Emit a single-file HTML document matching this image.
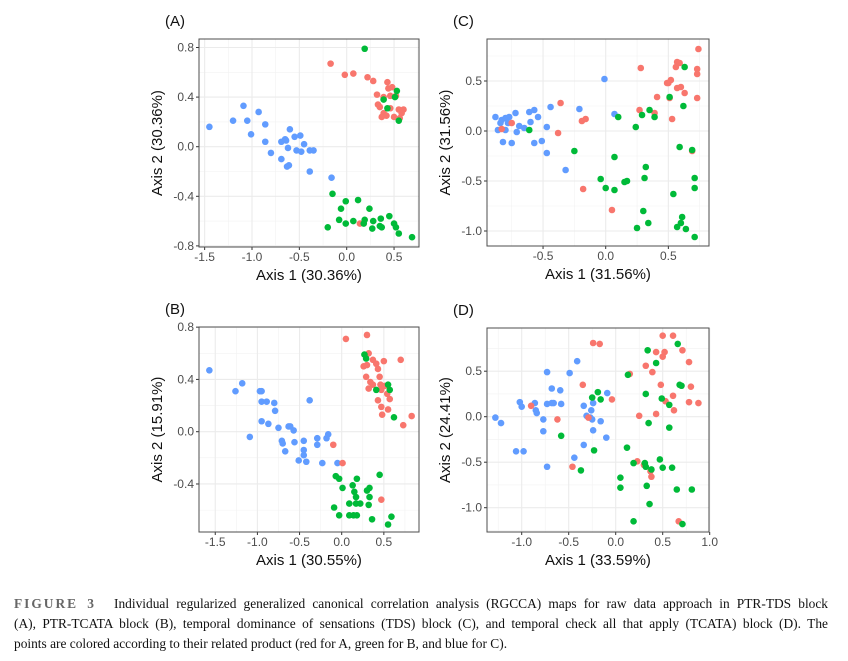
<!DOCTYPE html>
<html><head><meta charset="utf-8">
<style>
html,body{margin:0;padding:0;background:#fff;width:848px;height:661px;overflow:hidden}
svg{position:absolute;left:0;top:0}
.cap{position:absolute;left:14px;top:594px;width:814px;font-family:"Liberation Serif",serif;font-size:13.4px;line-height:20px;color:#111}
.cap div{white-space:nowrap}
.cap .j{text-align:justify;text-align-last:justify;white-space:normal}
.fig{color:#666;font-weight:bold;letter-spacing:2px;margin-right:11px}
</style></head><body>
<svg id="chart" width="848" height="590"></svg>
<div class="cap">
<div class="j"><span class="fig">FIGURE 3</span> Individual regularized generalized canonical correlation analysis (RGCCA) maps for raw data approach in PTR-TDS block</div>
<div class="j">(A), PTR-TCATA block (B), temporal dominance of sensations (TDS) block (C), and temporal check all that apply (TCATA) block (D). The</div>
<div>points are colored according to their related product (red for A, green for B, and blue for C).</div>
</div>
<script>
// Panel A data
const aRedX=[-0.17,-0.02,0.07,0.22,0.28,0.43,0.44,0.32,0.39,0.46,0.52,0.33,0.35,0.39,0.46,0.55,0.58,0.50,0.42,0.37,0.56,0.60,0.48,0.14];
const aRedY=[0.67,0.58,0.59,0.56,0.53,0.52,0.47,0.42,0.40,0.41,0.41,0.34,0.32,0.27,0.31,0.30,0.27,0.24,0.25,0.24,0.23,0.30,0.48,-0.62];
const aGreenX=[0.19,0.53,0.39,0.51,0.43,0.55,-0.15,-0.01,0.12,-0.06,0.24,-0.20,-0.08,-0.01,0.07,0.19,0.28,0.27,0.35,0.36,0.37,0.45,0.50,0.52,0.55,0.69,0.18];
const aGreenY=[0.79,0.45,0.38,0.40,0.31,0.21,-0.38,-0.44,-0.43,-0.50,-0.50,-0.65,-0.59,-0.62,-0.60,-0.59,-0.60,-0.66,-0.64,-0.58,-0.65,-0.56,-0.62,-0.65,-0.70,-0.73,-0.62];
const aBlueX=[-1.45,-1.20,-1.09,-1.05,-1.01,-0.93,-0.86,-0.86,-0.80,-0.69,-0.69,-0.65,-0.63,-0.61,-0.60,-0.62,-0.55,-0.49,-0.53,-0.48,-0.45,-0.39,-0.35,-0.39,-0.16,-0.64];
const aBlueY=[0.16,0.21,0.33,0.21,0.10,0.28,0.18,0.04,-0.05,-0.10,0.04,0.06,-0.16,-0.15,0.14,-0.01,0.08,0.09,-0.03,-0.04,0.02,-0.03,-0.03,-0.20,-0.25,0.05];
const aXTicks=[-1.5,-1.0,-0.5,0.0,0.5];
const aYTicks=[-0.8,-0.4,0.0,0.4,0.8];
// Panel B data
const bRedX=[-0.10,0.01,0.05,0.30,0.32,0.26,0.30,0.37,0.41,0.43,0.50,0.70,0.29,0.34,0.37,0.32,0.45,0.46,0.47,0.51,0.54,0.57,0.43,0.47,0.55,0.48,0.73,0.83,0.47];
const bRedY=[-0.10,-0.24,0.71,0.74,0.60,0.50,0.51,0.55,0.52,0.48,0.54,0.55,0.42,0.38,0.36,0.33,0.42,0.36,0.32,0.35,0.29,0.25,0.24,0.19,0.17,0.13,0.05,0.12,-0.52];
const bGreenX=[0.27,0.29,0.41,0.55,0.57,0.62,-0.07,-0.03,0.01,0.18,0.13,0.15,0.17,0.30,0.33,0.45,0.09,0.17,0.22,0.33,0.32,-0.09,-0.03,0.09,0.14,0.18,0.36,0.55,0.59];
const bGreenY=[0.59,0.56,0.32,0.36,0.32,0.11,-0.34,-0.36,-0.43,-0.36,-0.41,-0.46,-0.50,-0.45,-0.43,-0.33,-0.55,-0.55,-0.55,-0.50,-0.56,-0.58,-0.64,-0.64,-0.64,-0.64,-0.67,-0.71,-0.65];
const bBlueX=[-1.57,-1.26,-1.18,-1.09,-0.97,-0.95,-0.95,-0.89,-0.95,-0.87,-0.80,-0.79,-0.75,-0.71,-0.70,-0.67,-0.63,-0.61,-0.57,-0.56,-0.51,-0.45,-0.45,-0.45,-0.42,-0.38,-0.29,-0.29,-0.23,-0.16,-0.18,-0.05];
const bBlueY=[0.47,0.31,0.37,-0.04,0.31,0.31,0.23,0.23,0.08,0.06,0.22,0.16,0.03,-0.07,-0.09,-0.15,0.04,0.04,0.01,-0.08,-0.22,-0.07,-0.14,-0.18,-0.23,0.24,-0.05,-0.10,-0.24,-0.02,-0.05,-0.24];
const bXTicks=[-1.5,-1.0,-0.5,0.0,0.5];
const bYTicks=[-0.4,0.0,0.4,0.8];
// Panel C data
const cRedX=[-0.83,-0.75,-0.36,-0.38,-0.19,-0.16,-0.18,0.05,0.28,0.27,0.41,0.39,0.50,0.52,0.51,0.53,0.57,0.59,0.56,0.57,0.60,0.63,0.74,0.73,0.73,0.73,0.69,0.49];
const cRedY=[0.02,0.08,0.28,-0.02,0.10,0.12,-0.58,-0.79,0.63,0.21,0.34,0.18,0.48,0.51,0.33,0.12,0.69,0.68,0.64,0.43,0.44,0.38,0.82,0.62,0.57,0.33,-0.20,0.48];
const cGreenX=[-0.61,-0.25,-0.04,0.00,0.07,0.07,0.10,0.15,0.17,0.24,0.25,0.29,0.30,0.31,0.32,0.34,0.35,0.39,0.51,0.54,0.57,0.59,0.60,0.61,0.62,0.63,0.64,0.69,0.71,0.71,0.71];
const cGreenY=[0.01,-0.20,-0.48,-0.57,-0.26,-0.59,0.14,-0.51,-0.50,0.04,-0.97,0.16,-0.80,-0.47,-0.36,-0.92,0.21,0.14,0.34,-0.63,-0.96,-0.16,-0.92,-0.86,0.25,0.64,-0.98,-0.19,-0.47,-0.57,-1.06];
const cBlueX=[-0.88,-0.86,-0.83,-0.82,-0.80,-0.80,-0.77,-0.75,-0.72,-0.71,-0.69,-0.65,-0.61,-0.60,-0.57,-0.57,-0.54,-0.51,-0.47,-0.47,-0.44,-0.32,-0.21,-0.01,0.07,-0.84,-0.78];
const cBlueY=[0.14,0.01,0.11,-0.11,0.13,0.01,0.14,-0.12,0.18,-0.01,0.05,0.03,0.19,0.09,0.21,-0.12,0.14,-0.10,0.04,-0.22,0.24,-0.39,0.22,0.52,0.17,0.08,0.08];
const cXTicks=[-0.5,0.0,0.5];
const cYTicks=[-1.0,-0.5,0.0,0.5];
// Panel D data
const dRedX=[-0.90,-0.62,-0.46,-0.35,-0.24,-0.17,-0.29,-0.04,0.15,0.23,0.25,0.30,0.32,0.37,0.38,0.39,0.43,0.43,0.48,0.50,0.50,0.52,0.53,0.61,0.61,0.62,0.67,0.71,0.78,0.78,0.80,0.88];
const dRedY=[0.12,-0.03,-0.55,0.35,0.81,0.80,-0.01,0.19,0.47,-0.49,0.01,-0.53,0.56,-0.60,-0.66,0.49,0.71,0.03,0.35,0.89,0.66,0.71,0.17,0.89,0.23,0.07,-1.15,0.73,0.16,0.60,0.33,0.15];
const dGreenX=[-0.58,-0.37,-0.25,-0.23,-0.19,-0.16,0.05,0.05,0.12,0.13,0.19,0.19,0.32,0.31,0.32,0.33,0.34,0.35,0.36,0.38,0.43,0.47,0.49,0.50,0.57,0.57,0.60,0.65,0.66,0.68,0.70,0.71,0.81];
const dGreenY=[-0.21,-0.59,0.21,-0.37,0.27,0.19,-0.67,-0.78,-0.34,0.46,-0.51,-1.15,0.25,-0.51,-0.55,-0.76,0.73,-0.07,-0.96,-0.58,0.59,-0.47,0.20,-0.56,0.13,-0.12,-0.56,-0.80,0.80,0.35,0.34,-1.18,-0.80];
const dBlueX=[-1.28,-1.22,-1.06,-0.98,-1.02,-1.00,-0.86,-0.85,-0.84,-0.77,-0.77,-0.73,-0.73,-0.73,-0.68,-0.68,-0.66,-0.59,-0.58,-0.49,-0.41,-0.44,-0.34,-0.34,-0.31,-0.27,-0.26,-0.25,-0.24,-0.24,-0.16,-0.10,-0.09];
const dBlueY=[-0.01,-0.07,-0.38,-0.38,0.16,0.11,0.15,0.07,0.04,-0.03,-0.16,-0.55,0.14,0.49,0.15,0.31,0.15,0.29,0.14,0.48,0.61,-0.45,0.12,-0.31,0.01,-0.01,0.07,-0.03,0.15,-0.15,-0.05,-0.23,0.26];
const dXTicks=[-1.0,-0.5,0.0,0.5,1.0];
const dYTicks=[-1.0,-0.5,0.0,0.5];

const NS='http://www.w3.org/2000/svg';
const svg=document.getElementById('chart');
const RED='#F8766D',GREEN='#00BA38',BLUE='#619CFF';
function mk(tag,attrs,parent){const e=document.createElementNS(NS,tag);for(const k in attrs)e.setAttribute(k,attrs[k]);(parent||svg).appendChild(e);return e;}
function fmt(v){return (v<0?'-':'')+Math.abs(v).toFixed(1);}

function panel(cfg){
  const g=mk('g',{});
  
  
  const sx=v=>cfg.x0+v*cfg.kx, sy=v=>cfg.y0-v*cfg.ky;
  mk('rect',{x:cfg.L,y:cfg.T,width:cfg.R-cfg.L,height:cfg.B-cfg.T,fill:'#fff'},g);
  const xs=cfg.xt, ys=cfg.yt;
  const dx=xs[1]-xs[0], dy=ys[1]-ys[0];
  for(let v=xs[0]-dx/2;v<=xs[xs.length-1]+dx;v+=dx){const p=sx(v);if(p>cfg.L&&p<cfg.R)mk('line',{x1:p,x2:p,y1:cfg.T,y2:cfg.B,stroke:'#f2f2f2','stroke-width':0.6},g);}
  for(let v=ys[0]-dy/2;v<=ys[ys.length-1]+dy;v+=dy){const p=sy(v);if(p>cfg.T&&p<cfg.B)mk('line',{x1:cfg.L,x2:cfg.R,y1:p,y2:p,stroke:'#f2f2f2','stroke-width':0.6},g);}
  xs.forEach(v=>{const p=sx(v);
    const l=mk('line',{x1:p,x2:p,y1:cfg.T,y2:cfg.B,stroke:'#ebebeb','stroke-width':1.1},g);
    
    mk('line',{x1:p,x2:p,y1:cfg.B,y2:cfg.B+3,stroke:'#333','stroke-width':1},g);
    const t=mk('text',{x:p,y:cfg.B+14,'text-anchor':'middle','font-size':12,fill:'#4d4d4d','font-family':'Liberation Sans, sans-serif'},g);
    t.textContent=fmt(v);
    
    
  });
  ys.forEach(v=>{const p=sy(v);
    const l=mk('line',{x1:cfg.L,x2:cfg.R,y1:p,y2:p,stroke:'#ebebeb','stroke-width':1.1},g);
    
    mk('line',{x1:cfg.L-3,x2:cfg.L,y1:p,y2:p,stroke:'#333','stroke-width':1},g);
    const t=mk('text',{x:cfg.L-5,y:p+4,'text-anchor':'end','font-size':12,fill:'#4d4d4d','font-family':'Liberation Sans, sans-serif'},g);
    t.textContent=fmt(v);
    
    
  });
  cfg.series.forEach(s=>{
    s.x.forEach((v,i)=>{
      const c=mk('circle',{cx:sx(v),cy:sy(s.y[i]),r:3.3,fill:s.c},g);
      
      
    });
  });
  mk('rect',{x:cfg.L,y:cfg.T,width:cfg.R-cfg.L,height:cfg.B-cfg.T,fill:'none',stroke:'#4d4d4d','stroke-width':1},g);
  const xt=mk('text',{x:(cfg.L+cfg.R)/2,y:cfg.B+33,'text-anchor':'middle','font-size':15,fill:'#111','font-family':'Liberation Sans, sans-serif'},g);
  xt.textContent=cfg.xl;
  
  
  const yx=cfg.L-37, yy=(cfg.T+cfg.B)/2;
  const yt=mk('text',{x:yx,y:yy,'text-anchor':'middle','font-size':15,fill:'#111','font-family':'Liberation Sans, sans-serif',transform:`rotate(-90 ${yx} ${yy})`},g);
  yt.textContent=cfg.yl;
  
  
  const pl=mk('text',{x:cfg.L-34,y:cfg.T-13,'font-size':15,fill:'#111','font-family':'Liberation Sans, sans-serif'},g);
  pl.textContent='('+cfg.id+')';
  
  
}

panel({id:'A',L:199,T:39,R:419,B:247,x0:346.7,kx:94.7,y0:146.7,ky:124,xt:aXTicks,yt:aYTicks,xl:'Axis 1 (30.36%)',yl:'Axis 2 (30.36%)',
  series:[{n:'blue',c:BLUE,x:aBlueX,y:aBlueY},{n:'red',c:RED,x:aRedX,y:aRedY},{n:'green',c:GREEN,x:aGreenX,y:aGreenY}]});
panel({id:'B',L:199,T:327,R:419,B:532,x0:341.7,kx:84.3,y0:431.7,ky:130.7,xt:bXTicks,yt:bYTicks,xl:'Axis 1 (30.55%)',yl:'Axis 2 (15.91%)',
  series:[{n:'blue',c:BLUE,x:bBlueX,y:bBlueY},{n:'red',c:RED,x:bRedX,y:bRedY},{n:'green',c:GREEN,x:bGreenX,y:bGreenY}]});
panel({id:'C',L:487,T:39,R:709,B:246,x0:605.7,kx:125.3,y0:131,ky:100,xt:cXTicks,yt:cYTicks,xl:'Axis 1 (31.56%)',yl:'Axis 2 (31.56%)',
  series:[{n:'blue',c:BLUE,x:cBlueX,y:cBlueY},{n:'red',c:RED,x:cRedX,y:cRedY},{n:'green',c:GREEN,x:cGreenX,y:cGreenY}]});
panel({id:'D',L:487,T:328,R:709,B:532,x0:615.7,kx:94,y0:416.7,ky:91,xt:dXTicks,yt:dYTicks,xl:'Axis 1 (33.59%)',yl:'Axis 2 (24.41%)',
  series:[{n:'blue',c:BLUE,x:dBlueX,y:dBlueY},{n:'red',c:RED,x:dRedX,y:dRedY},{n:'green',c:GREEN,x:dGreenX,y:dGreenY}]});
</script>
</body></html>
